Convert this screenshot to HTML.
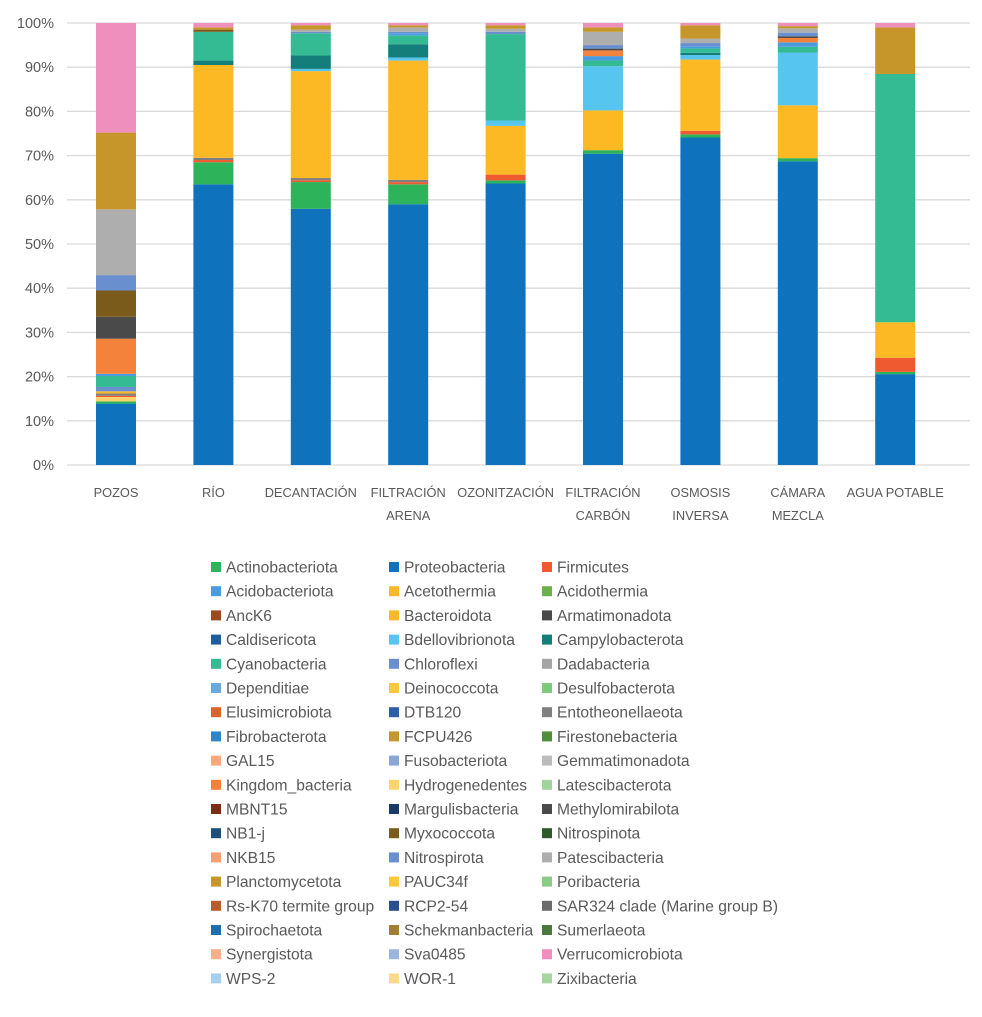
<!DOCTYPE html>
<html><head><meta charset="utf-8"><style>
body{margin:0;background:#fff;font-family:"Liberation Sans",sans-serif;}
svg text{font-family:"Liberation Sans",sans-serif;fill:#595959;}
</style></head><body>
<svg id="chart" width="982" height="1012" viewBox="0 0 982 1012" xmlns="http://www.w3.org/2000/svg"></svg>
<script>
const categories=["POZOS","RÍO","DECANTACIÓN","FILTRACIÓN|ARENA","OZONITZACIÓN","FILTRACIÓN|CARBÓN","OSMOSIS|INVERSA","CÁMARA|MEZCLA","AGUA POTABLE"];
const yTicks=[0,10,20,30,40,50,60,70,80,90,100];
const proteobacteria=[14,63.5,57.5,59,63.5,70.5,73.5,69,20.5];
const actinobacteriota=[0.5,5,6,4.5,0.7,0.8,0.7,0.7,0.5];
const hydrogenedentes=[1,0,0,0,0,0,0,0,0];
const firmicutes=[0.3,0.5,0.4,0.5,1.3,0,0.8,0,3.2];
const entotheonellaeota=[0.5,0.5,0.5,0.5,0,0,0,0,0];
const bacteroidota=[0.5,21,24,27,11,9,16,12,8];
const bdellovibrionota=[0,0,0.5,0.7,1.2,10,1,12,0];
const chloroflexi=[1,0,0,0,0,0,0,0,0];
const campylobacterota=[0,1,3,3,0,0,0.5,0,0];
const cyanobacteria=[2.5,6.5,5,2,19.5,1.3,1,1.3,56];
const acidobacteriota=[0.5,0,0,0.5,0,1,0.5,1,0];
const kingdomBacteria=[8,0,0,0,0,1.3,0,1,0];
const methylomirabilota=[5,0,0,0,0,0.4,0,0.4,0];
const myxococcota=[6,0.5,0,0,0,0,0,0,0];
const nitrospirota=[3.5,0,0.3,0.3,0.5,0.8,0.7,0.8,0];
const patescibacteria=[15,0,0.5,1,0.7,3,1,1,0];
const planctomycetota=[17.5,0.5,1,0.5,0.8,1,3,0.5,10.5];
const verrucomicrobiota=[25,1,0.5,0.5,0.5,1,0.5,0.7,1];
const seriesNames=["Proteobacteria","Actinobacteriota","Hydrogenedentes","Firmicutes","Entotheonellaeota","Bacteroidota","Bdellovibrionota","Chloroflexi","Campylobacterota","Cyanobacteria","Acidobacteriota","Kingdom_bacteria","Methylomirabilota","Myxococcota","Nitrospirota","Patescibacteria","Planctomycetota","Verrucomicrobiota"];
const seriesValues=[proteobacteria,actinobacteriota,hydrogenedentes,firmicutes,entotheonellaeota,bacteroidota,bdellovibrionota,chloroflexi,campylobacterota,cyanobacteria,acidobacteriota,kingdomBacteria,methylomirabilota,myxococcota,nitrospirota,patescibacteria,planctomycetota,verrucomicrobiota];
const legendNames=["Actinobacteriota","Proteobacteria","Firmicutes","Acidobacteriota","Acetothermia","Acidothermia","AncK6","Bacteroidota","Armatimonadota","Caldisericota","Bdellovibrionota","Campylobacterota","Cyanobacteria","Chloroflexi","Dadabacteria","Dependitiae","Deinococcota","Desulfobacterota","Elusimicrobiota","DTB120","Entotheonellaeota","Fibrobacterota","FCPU426","Firestonebacteria","GAL15","Fusobacteriota","Gemmatimonadota","Kingdom_bacteria","Hydrogenedentes","Latescibacterota","MBNT15","Margulisbacteria","Methylomirabilota","NB1-j","Myxococcota","Nitrospinota","NKB15","Nitrospirota","Patescibacteria","Planctomycetota","PAUC34f","Poribacteria","Rs-K70 termite group","RCP2-54","SAR324 clade (Marine group B)","Spirochaetota","Schekmanbacteria","Sumerlaeota","Synergistota","Sva0485","Verrucomicrobiota","WPS-2","WOR-1","Zixibacteria"];
const legendColors=["#2db45b","#0e72bd","#f05a30","#4b9be0","#fdb924","#6ab04c","#9b4a1e","#fdb924","#4a4a4a","#1f5f9e","#56c5ef","#137e7a","#35bb93","#6a8fcf","#a5a5a5","#6aa9e0","#fdc83a","#7ccb7a","#d9632a","#2a5fa8","#7f7f7f","#2e86c8","#c6962a","#4f8f3a","#f7a87a","#8aa6d6","#bcbcbc","#f4823a","#fdd36a","#9fd49a","#7a2e16","#1a3a66","#4a4a4a","#1e4f7a","#7a5b1c","#2e5a2a","#f4a070","#6a8fcf","#aeaeae","#c6962a","#fdc83a","#8ccb86","#b85a2a","#2a4f8f","#6a6a6a","#1f6fae","#a08030","#4a7a3a","#f7b08a","#9ab6de","#ef8fbd","#a6d0ef","#fdd98a","#a6d6a0"];
const colorOf=n=>legendColors[legendNames.indexOf(n)];
const svg=document.getElementById('chart');const NS="http://www.w3.org/2000/svg";
function el(t,a,p){const e=document.createElementNS(NS,t);for(const k in a)e.setAttribute(k,a[k]);(p||svg).appendChild(e);return e;}
const plotL=67,plotR=970,yTop=23,yBot=465;
const yScale=v=>yBot-(v/100)*(yBot-yTop);
const firstX=116,stepX=97.4;
const xCenter=i=>firstX+stepX*i;
const barW=40;
yTicks.forEach(t=>{
  const g=el('line',{x1:plotL,x2:plotR,y1:yScale(t),y2:yScale(t),stroke:'#d9d9d9','stroke-width':1.3});
  
  
  const tx=el('text',{x:54,y:yScale(t)+5,'text-anchor':'end','font-size':14.5});
  tx.textContent=t+'%';
  
  
});
categories.forEach((c,i)=>{
  const total=seriesValues.reduce((s,a)=>s+a[i],0);
  let cum=0;
  seriesValues.forEach((arr,k)=>{
    const v=arr[i]/total*100; if(v<=0)return;
    const y1=yScale(cum+v),y0=yScale(cum);
    const r=el('rect',{x:xCenter(i)-barW/2,y:y1,width:barW,height:y0-y1,fill:colorOf(seriesNames[k])});
    
    
    cum+=v;
  });
  c.split('|').forEach((line,j)=>{
    const t=el('text',{x:xCenter(i),y:497+j*23,'text-anchor':'middle','font-size':12.8});
    t.textContent=line;
    
    
  });
});
const colX=[211,389,542];
legendNames.forEach((n,idx)=>{
  const col=idx%3,row=Math.floor(idx/3);
  const y=567+row*24.2;
  const g=el('g',{});
  
  
  el('rect',{x:colX[col],y:y-5,width:10,height:10,fill:legendColors[idx]},g);
  const t=el('text',{x:colX[col]+15,y:y+5.5,'font-size':15.6},g);
  t.textContent=n;
});
</script>
</body></html>
